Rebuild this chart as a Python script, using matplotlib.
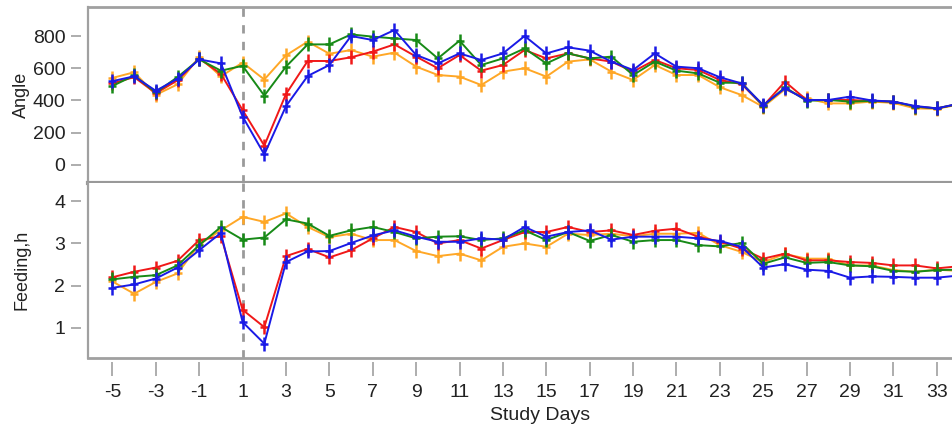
import matplotlib
matplotlib.use("Agg")
import matplotlib.pyplot as plt
from matplotlib.path import Path
from matplotlib.lines import Line2D

plt.rcParams['font.family'] = ['Liberation Sans', 'DejaVu Sans']
plt.rcParams['axes.unicode_minus'] = False

days = list(range(-5, 35))
tick_days = list(range(-5, 34, 2))

angle_blue = [520, 550, 460, 535, 655, 630, 300, 65, 365, 552, 620, 800, 775, 837, 682, 630, 692, 651, 692, 800,
              692, 730, 709, 641, 589, 692, 610, 600, 544, 506, 372, 475, 403, 403, 424, 400, 393, 366, 351, 380]
angle_red = [506, 545, 445, 525, 660, 565, 340, 120, 440, 645, 645, 668, 703, 748, 672, 600, 682, 585, 620, 713,
             661, 692, 661, 641, 579, 651, 600, 589, 527, 502, 366, 517, 403, 403, 403, 397, 393, 362, 351, 378]
angle_green = [490, 555, 450, 545, 655, 585, 615, 430, 610, 748, 748, 810, 796, 785, 775, 661, 771, 620, 661, 723,
               630, 692, 661, 672, 558, 641, 585, 568, 510, 510, 366, 482, 398, 403, 393, 397, 393, 362, 351, 378]
angle_orange = [540, 575, 435, 500, 670, 550, 635, 530, 680, 765, 690, 713, 672, 697, 610, 558, 548, 496, 579, 600,
                548, 641, 655, 579, 527, 620, 558, 558, 482, 434, 360, 469, 413, 382, 382, 393, 385, 351, 348, 375]

feed_blue = [1.95, 2.03, 2.17, 2.43, 2.84, 3.25, 1.14, 0.63, 2.56, 2.81, 2.82, 3.01, 3.19, 3.31, 3.16, 3.04, 3.04,
             3.12, 3.09, 3.39, 3.16, 3.27, 3.31, 3.09, 3.16, 3.16, 3.16, 3.12, 3.06, 2.92, 2.43, 2.51, 2.38, 2.35,
             2.19, 2.22, 2.21, 2.19, 2.19, 2.24]
feed_red = [2.20, 2.33, 2.43, 2.59, 3.08, 3.17, 1.43, 1.02, 2.70, 2.87, 2.67, 2.84, 3.12, 3.39, 3.27, 3.00, 3.08,
            2.88, 3.08, 3.27, 3.27, 3.39, 3.27, 3.31, 3.20, 3.30, 3.35, 3.16, 3.04, 2.88, 2.64, 2.76, 2.60, 2.60,
            2.56, 2.54, 2.48, 2.48, 2.41, 2.46]
feed_green = [2.15, 2.21, 2.25, 2.48, 2.96, 3.39, 3.09, 3.14, 3.57, 3.47, 3.18, 3.31, 3.39, 3.27, 3.12, 3.16, 3.17,
              3.08, 3.12, 3.31, 3.08, 3.27, 3.06, 3.20, 3.04, 3.08, 3.08, 2.96, 2.93, 3.01, 2.52, 2.67, 2.54, 2.56,
              2.48, 2.46, 2.35, 2.33, 2.37, 2.38]
feed_orange = [2.10, 1.81, 2.09, 2.29, 2.98, 3.31, 3.63, 3.51, 3.71, 3.39, 3.15, 3.23, 3.08, 3.08, 2.82, 2.70, 2.76,
               2.60, 2.92, 3.00, 2.92, 3.23, 3.20, 3.23, 3.17, 3.23, 3.23, 3.25, 2.96, 2.80, 2.56, 2.75, 2.64, 2.64,
               2.48, 2.48, 2.37, 2.33, 2.38, 2.35]

colors = {'orange': '#ffa726', 'red': '#f01818', 'green': '#178a17', 'blue': '#1a1ae6'}
frame_col = '#a0a0a0'
text_col = '#222222'

# tall plus marker
plus = Path([(0, -1.35), (0, 1.35), (-0.85, 0), (0.85, 0)],
            [Path.MOVETO, Path.LINETO, Path.MOVETO, Path.LINETO])

W, H = 952, 432
fig = plt.figure(figsize=(W / 100, H / 100), dpi=100)
left = 87.5 / W
ax1 = fig.add_axes([left, 1 - 183 / H, 1 - left, 176 / H])
ax2 = fig.add_axes([left, 1 - 358 / H, 1 - left, 175 / H])

series_top = [('orange', angle_orange), ('red', angle_red), ('green', angle_green), ('blue', angle_blue)]
series_bot = [('orange', feed_orange), ('red', feed_red), ('green', feed_green), ('blue', feed_blue)]

for ax, series in ((ax1, series_top), (ax2, series_bot)):
    for name, vals in series:
        ax.plot(days, vals, color=colors[name], lw=1.4, marker=plus, ms=10, mew=1.8, zorder=3)
    ax.set_xlim(-6.15, 33.7)
    ax.axvline(1, color='#9a9a9a', lw=2, ls=(0, (3, 3)), zorder=1)
    for s in ax.spines.values():
        s.set_visible(False)
    ax.spines['left'].set_position(('outward', 5))
    ax.spines['bottom'].set_position(('outward', 3))
    ax.tick_params(axis='y', direction='out', length=7, width=1.2, color=frame_col,
                   labelsize=14, labelcolor=text_col, pad=4)
    # left frame line
    ax.add_line(Line2D([0, 0], [0, 1], transform=ax.transAxes, color=frame_col, lw=1.6, clip_on=False))

ax1.set_ylim(-112, 980)
ax1.set_yticks([0, 200, 400, 600, 800])
ax1.tick_params(axis='x', bottom=False, labelbottom=False)
ax1.add_line(Line2D([0, 1], [1, 1], transform=ax1.transAxes, color=frame_col, lw=2, clip_on=False))
ax1.add_line(Line2D([0, 1], [0, 0], transform=ax1.transAxes, color='#999999', lw=3, clip_on=False, zorder=5))

ax2.set_ylim(0.29, 4.43)
ax2.set_yticks([1, 2, 3, 4])
ax2.set_xticks(tick_days)
ax2.tick_params(axis='x', direction='out', length=10, width=1.2, color=frame_col,
                labelsize=14, labelcolor=text_col, pad=6)
ax2.add_line(Line2D([0, 1], [0, 0], transform=ax2.transAxes, color=frame_col, lw=2, clip_on=False))

fig.text(21.7 / W, 1 - 95 / H, 'Angle', rotation=90, ha='center', va='center', fontsize=13, color=text_col)
fig.text(21.7 / W, 1 - 270 / H, 'Feeding,h', rotation=90, ha='center', va='center', fontsize=13, color=text_col)
fig.text(540 / W, 1 - 416 / H, 'Study Days', ha='center', va='center', fontsize=14, color=text_col)

fig.savefig('out.png', dpi=100, facecolor='white')
